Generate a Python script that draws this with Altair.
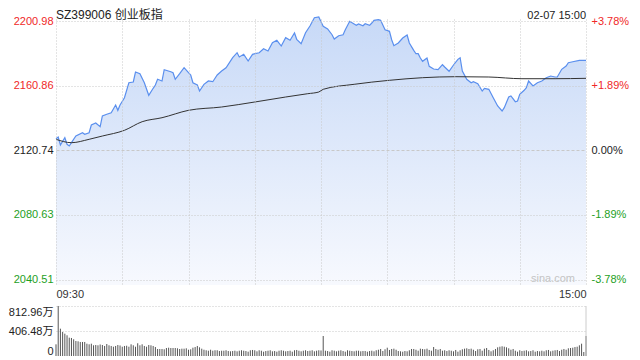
import altair as alt
import pandas as pd

# ---------------- data ----------------
# minute index (0 = 09:30, 120 = 11:30/13:00, 240 = 15:00) and index level
price_min = [0, 1, 2, 4, 5, 6, 7, 9, 12, 13, 15, 16, 18, 20, 21, 23, 25, 27, 28, 29,
             31, 33, 35, 36, 38, 40, 42, 44, 45, 46, 48, 49, 52, 53, 54, 56, 58, 60, 61, 62,
             64, 65, 67, 69, 71, 73, 75, 77, 80, 82, 83, 85, 87, 89, 92, 94, 96, 98, 100, 102,
             104, 106, 108, 109, 111, 113, 115, 117, 119, 120,
             121, 123, 125, 126, 128, 130, 131, 133, 135, 136, 137, 139, 140, 142, 143, 144,
             146, 147, 149, 151, 152, 153, 155, 157, 159, 160, 162, 163, 164, 165, 166, 168,
             169, 171, 173, 175, 176, 178, 180, 182, 183, 184, 186, 188, 189, 191, 193, 194,
             196, 198, 200, 202, 203, 205, 206, 208, 209, 210, 212, 213, 214, 216, 218, 220,
             222, 224, 226, 227, 229, 231, 232, 234, 237, 239, 240]
price_val = [2127.94, 2128.99, 2124.03, 2128.56, 2124.46, 2123.41, 2125.46, 2129.61, 2131.66, 2130.67,
             2131.66, 2136.44, 2137.68, 2135.39, 2142.03, 2143.08, 2144.07, 2148.85, 2145.56, 2148.85,
             2153.38, 2162.69, 2163.13, 2169.33, 2168.28, 2162.69, 2154.87, 2159.22, 2161.27, 2164.80,
             2163.75, 2170.76, 2169.52, 2168.90, 2164.80, 2168.28, 2172.00, 2168.90, 2167.47, 2162.69,
             2161.27, 2157.54, 2161.70, 2163.75, 2163.31, 2167.47, 2169.95, 2172.00, 2178.21, 2181.31,
             2178.64, 2180.32, 2176.16, 2180.32, 2181.31, 2183.79, 2182.37, 2187.52, 2189.01, 2185.47,
             2190.62, 2189.01, 2193.54, 2189.63, 2186.90, 2193.72, 2197.88, 2203.03, 2203.47, 2200.55,
             2197.69, 2196.02, 2192.48, 2189.81, 2191.86, 2192.48, 2195.58, 2200.80, 2199.12, 2198.32,
             2199.12, 2198.07, 2199.31, 2198.32, 2199.74, 2201.42, 2201.79, 2201.42, 2195.58, 2194.59,
             2189.38, 2185.65, 2187.33, 2190.43, 2192.29, 2187.33, 2182.80, 2180.69, 2180.69, 2178.02,
             2175.97, 2178.02, 2172.87, 2171.19, 2170.76, 2173.86, 2172.44, 2169.77, 2173.68, 2177.21,
             2178.21, 2169.95, 2164.80, 2162.69, 2163.31, 2162.07, 2157.54, 2159.22, 2158.60, 2153.38,
             2148.23, 2145.13, 2147.18, 2153.82, 2154.44, 2150.90, 2151.34, 2155.49, 2157.98, 2159.59,
             2163.75, 2160.64, 2162.69, 2163.75, 2165.80, 2166.85, 2166.23, 2166.23, 2171.01, 2173.06,
             2175.10, 2175.72, 2176.59, 2176.59, 2176.59]

avg_min = [0, 7, 15, 21, 31, 39, 48, 60, 75, 90, 104, 114, 119, 121, 135, 151, 166, 181, 196, 211, 226, 240]
avg_val = [2127.57, 2125.46, 2127.57, 2129.61, 2133.15, 2138.49, 2140.97, 2145.56, 2147.61, 2150.72,
           2153.82, 2155.87, 2156.92, 2158.60, 2161.70, 2164.18, 2165.80, 2166.42, 2166.23, 2165.17,
           2165.17, 2165.42]

# volume per minute, in 万 (241 bars)
volume = [190, 813, 444, 390, 363, 337, 298, 293, 272, 244,
          239, 228, 228, 228, 200, 190, 200, 174, 179, 174,
          187, 179, 163, 195, 174, 163, 151, 163, 179, 171,
          151, 163, 167, 151, 190, 174, 151, 207, 174, 190,
          163, 151, 179, 174, 163, 146, 114, 114, 114, 109,
          130, 135, 130, 130, 130, 125, 114, 119, 119, 125,
          102, 109, 135, 146, 163, 141, 119, 102, 93, 86,
          102, 86, 93, 93, 81, 86, 86, 93, 81, 76,
          81, 86, 76, 86, 93, 86, 81, 70, 93, 98,
          93, 76, 93, 86, 70, 81, 86, 93, 76, 81,
          70, 86, 93, 86, 76, 81, 86, 70, 93, 98,
          86, 76, 86, 93, 81, 86, 93, 76, 86, 93,
          90, 325,
          86, 81, 70, 93, 86, 76, 86, 93, 81, 70,
          93, 86, 81, 76, 86, 86, 76, 81, 81, 70,
          81, 86, 76, 93, 102, 114, 81, 109, 135, 98,
          114, 119, 102, 81, 76, 70, 81, 76, 93, 114,
          114, 102, 86, 119, 114, 109, 119, 98, 86, 146,
          114, 102, 114, 86, 93, 81, 93, 86, 76, 98,
          70, 93, 109, 119, 125, 114, 119, 102, 81, 109,
          114, 86, 119, 130, 98, 76, 93, 114, 141, 151,
          158, 151, 141, 125, 102, 114, 86, 70, 93, 81,
          86, 93, 76, 81, 93, 70, 81, 76, 86, 76,
          93, 98, 76, 86, 93, 98, 81, 102, 114, 102,
          125, 130, 135, 146, 151, 174, 200, 65, 325]

price_ticks = [2040.51, 2080.63, 2120.74, 2160.86, 2200.98]
vol_ticks = [0, 406.48, 812.96]
time_ticks = [0, 30, 60, 90, 120, 150, 180, 210, 240]
prev_close = 2120.74
y_domain = [2037.15, 2202.23]
title_text = ["SZ399006 创业板指"]
date_text = ["02-07 15:00"]
mark_text = ["sina.com"]

# ---------------- styling ----------------
FONT = "Liberation Sans, Noto Sans CJK SC"
W = 530
H_TOP = 266
H_VOL = 50
GRID = "#c8c8c8"
RED = "#f02828"
GREEN = "#1ea01e"
LINE = "#5a8fee"

price_df = pd.DataFrame({"m": price_min, "p": price_val})
avg_df = pd.DataFrame({"m": avg_min, "p": avg_val})
vol_df = pd.DataFrame({"m": list(range(len(volume))), "v": volume})

xscale = alt.Scale(domain=[0, 240], nice=False, zero=False)
yscale = alt.Scale(domain=y_domain, nice=False, zero=False)

x_axis = alt.Axis(values=time_ticks,
                  labelExpr="datum.value == 0 ? '09:30' : (datum.value == 240 ? '15:00' : '')",
                  labelFlush=True, labelOverlap=False, grid=True, gridColor=GRID,
                  gridDash=[1, 2], domain=False, ticks=False, labelPadding=3,
                  labelFontSize=11, labelFont=FONT, labelColor="#333333", title=None,
                  minExtent=15, maxExtent=15, zindex=1)
x_top = alt.X("m:Q", scale=xscale, axis=x_axis)

color_expr = {"expr": "datum.value > %f ? '%s' : (datum.value < %f ? '%s' : '#222222')"
              % (prev_close + 0.5, RED, prev_close - 0.5, GREEN)}

left_axis = alt.Axis(values=price_ticks, format=".2f", grid=True, gridColor=GRID,
                     gridDash={"condition": {"test": "abs(datum.value - 2120.74) < 0.01",
                                             "value": [3, 2]}, "value": [1, 2]},
                     domain=False, ticks=False, labelPadding=3, labelFontSize=11,
                     labelFont=FONT, labelColor=color_expr, title=None,
                     minExtent=46, maxExtent=46, zindex=1)

right_axis = alt.Axis(orient="right", values=price_ticks, grid=False, domain=False, ticks=False,
                      labelExpr="(datum.value > 2121 ? '+' : (datum.value < 2120 ? '-' : '')) + "
                                "format(abs(datum.value / 2120.74 - 1) * 100, '.2f') + '%'",
                      labelPadding=5, labelFontSize=11, labelFont=FONT,
                      labelColor=color_expr, title=None)

area = alt.Chart(price_df).mark_area(
    color=alt.Gradient(gradient="linear",
                       stops=[alt.GradientStop(color="#c7d9f7", offset=0),
                              alt.GradientStop(color="#f7f9fe", offset=1)],
                       x1=1, x2=1, y1=0, y2=1)
).encode(x=x_top, y=alt.Y("p:Q", scale=yscale, axis=left_axis), y2=alt.datum(y_domain[0]))

line = alt.Chart(price_df).mark_line(color=LINE, strokeWidth=1.2).encode(
    x=x_top, y=alt.Y("p:Q", scale=yscale, axis=None))

avg = alt.Chart(avg_df).mark_line(color="#333333", strokeWidth=1, interpolate="monotone").encode(
    x=x_top, y=alt.Y("p:Q", scale=yscale, axis=right_axis))

title = alt.Chart(pd.DataFrame({"t": title_text})).mark_text(
    align="left", baseline="alphabetic", font=FONT, fontSize=12, color="#222222"
).encode(text="t:N", x=alt.value(0), y=alt.value(-0.5))

date = alt.Chart(pd.DataFrame({"t": date_text})).mark_text(
    align="right", baseline="alphabetic", font=FONT, fontSize=11, color="#222222"
).encode(text="t:N", x=alt.value(W), y=alt.value(-0.5))

wm = alt.Chart(pd.DataFrame({"t": mark_text})).mark_text(
    align="right", baseline="alphabetic", font=FONT, fontSize=11, color="#c4c4c4"
).encode(text="t:N", x=alt.value(W - 11), y=alt.value(H_TOP - 3))

top = alt.layer(area, line, avg, title, date, wm).resolve_scale(y="independent").properties(
    width=W, height=H_TOP, view=alt.ViewBackground(stroke="#cccccc"))

vol_axis = alt.Axis(values=vol_ticks,
                    labelExpr="datum.value == 0 ? '0' : format(datum.value, '.2f') + '万'",
                    labelFlush=True, grid=True, gridColor=GRID, gridDash=[1, 2],
                    gridOpacity={"condition": {"test": "datum.value == 0", "value": 0}, "value": 1},
                    domain=False, ticks=False, labelPadding=3, labelFontSize=11, labelFont=FONT,
                    labelColor="#222222", title=None, minExtent=46, maxExtent=46)

bars = alt.Chart(vol_df).mark_rule(color="#555555", strokeWidth=1).encode(
    x=alt.X("m:Q", scale=xscale, axis=None),
    y=alt.Y("v:Q", scale=alt.Scale(domain=[0, 812.96], nice=False, zero=True), axis=vol_axis),
    y2=alt.datum(0))

border = alt.Chart(pd.DataFrame({"t": [0]})).mark_rule(color="#cccccc").encode(
    x=alt.value(W), y=alt.value(0), y2=alt.value(H_VOL))

bottom = alt.layer(bars, border).properties(
    width=W, height=H_VOL, view=alt.ViewBackground(strokeOpacity=0))

chart = alt.vconcat(top, bottom, spacing=5).properties(
    padding={"left": 0, "top": 0, "right": 0, "bottom": 0},
    background="white"
).configure_view(strokeOpacity=0)

chart.save("out.html", embed_options={"renderer": "svg", "actions": False})
